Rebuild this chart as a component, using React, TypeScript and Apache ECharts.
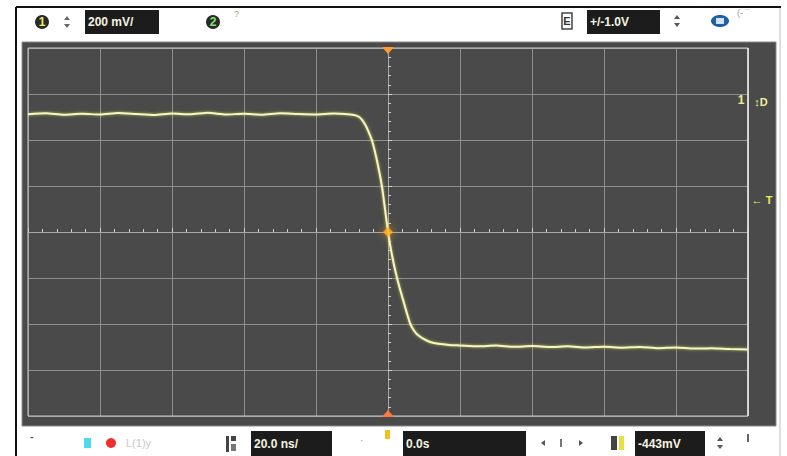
import React, { useEffect, useRef } from "react";
import * as echarts from "echarts";

// Time base: 20 ns/div, 10 divisions centred on the trigger (ns)
const timeTicks = [-100, -80, -60, -40, -20, 0, 20, 40, 60, 80, 100];
// Vertical: 200 mV/div, 8 divisions centred on the trigger level (mV)
const voltTicks = [-800, -600, -400, -200, 0, 200, 400, 600, 800];

// Channel 1 falling edge – sample times (ns)
const ch1Time = [
  -100, -95, -90, -85, -80, -75, -70, -65, -60, -55, -50, -45, -40, -35, -30, -25, -20, -15, -10,
  -9.2, -8, -7.2, -6.4, -5.6, -4.4, -3.1, -1.7, -0.8, 0, 1.1, 2.5, 4.2, 6.1, 7.2, 8.3, 10, 11.7, 14, 17,
  20, 25, 30, 35, 40, 45, 50, 55, 60, 65, 70, 75, 80, 85, 90, 95, 100,
];
// Channel 1 voltage relative to trigger level (mV)
const ch1Volt = [
  512, 516, 510, 514, 511, 517, 513, 509, 515, 512, 518, 511, 514, 510, 516, 513, 511, 515, 510,
  508, 500, 487, 468, 443, 396, 313, 200, 96, 0, -100, -200, -296, -396, -428, -448, -466, -478, -486, -491,
  -493, -497, -494, -499, -496, -500, -497, -502, -499, -503, -500, -505, -502, -507, -505, -509, -511,
];

const trigger = [[0, 0]];

const BOX = "#1c1c1c";
const FONT = "'Liberation Sans Narrow', 'Liberation Sans', Arial, sans-serif";

function boxText(x: number, y: number, w: number, h: number, label: string) {
  return {
    type: "group",
    children: [
      { type: "rect", shape: { x, y, width: w, height: h }, style: { fill: BOX } },
      {
        type: "text",
        x: x + 3,
        y: y + h / 2,
        style: {
          text: label,
          fill: "#f4f4e0",
          font: `bold 12px ${FONT}`,
          verticalAlign: "middle",
        },
      },
    ],
  };
}

function updown(x: number, y: number, color = "#555") {
  return {
    type: "group",
    children: [
      { type: "polygon", shape: { points: [[x - 3, y - 2], [x + 3, y - 2], [x, y - 6]] }, style: { fill: color } },
      { type: "polygon", shape: { points: [[x - 3, y + 2], [x + 3, y + 2], [x, y + 6]] }, style: { fill: color } },
    ],
  };
}

export default function App() {
  const ref = useRef<HTMLDivElement>(null);

  useEffect(() => {
    if (!ref.current) return;
    const chart = echarts.init(ref.current, undefined, { renderer: "svg" });

    const gridLine = { lineStyle: { color: "#8e8e8e", width: 1 } };

    chart.setOption({
      animation: false,
      backgroundColor: "#ffffff",
      grid: {
        left: 28,
        top: 48,
        width: 720,
        height: 368,
        show: true,
        borderColor: "#c8c8c8",
        borderWidth: 1,
        backgroundColor: "transparent",
        z: 2,
      },
      xAxis: {
        type: "value",
        min: timeTicks[0],
        max: timeTicks[timeTicks.length - 1],
        interval: 20,
        axisLabel: { show: false },
        axisLine: { show: true, onZero: true, lineStyle: { color: "#a8a8a8", width: 1 } },
        axisTick: { show: true, inside: true, length: 4, lineStyle: { color: "#d0d0d0" } },
        minorTick: { show: true, splitNumber: 5, length: 3, lineStyle: { color: "#d0d0d0" } },
        splitLine: gridLine,
      },
      yAxis: {
        type: "value",
        min: voltTicks[0],
        max: voltTicks[voltTicks.length - 1],
        interval: 200,
        axisLabel: { show: false },
        axisLine: { show: true, onZero: true, lineStyle: { color: "#a8a8a8", width: 1 } },
        axisTick: { show: true, inside: true, length: 4, lineStyle: { color: "#d0d0d0" } },
        minorTick: { show: true, splitNumber: 5, length: 3, lineStyle: { color: "#d0d0d0" } },
        splitLine: gridLine,
      },
      graphic: [
        // instrument frame
        { type: "rect", z: -10, shape: { x: 22, y: 42, width: 754, height: 384 }, style: { fill: "#4a4a4a", stroke: "#8a8a8a", lineWidth: 1 } },
        { type: "line", shape: { x1: 16, y1: 7, x2: 781, y2: 7 }, style: { stroke: "#111", lineWidth: 2 } },
        { type: "line", shape: { x1: 16, y1: 7, x2: 16, y2: 456 }, style: { stroke: "#111", lineWidth: 2 } },
        { type: "line", shape: { x1: 780, y1: 8, x2: 780, y2: 456 }, style: { stroke: "#bdbdbd", lineWidth: 1 } },
        { type: "line", z: 5, shape: { x1: 748, y1: 48, x2: 748, y2: 416 }, style: { stroke: "#e8e8e8", lineWidth: 1.5 } },

        // top bar
        { type: "circle", shape: { cx: 42, cy: 22, r: 7 }, style: { fill: "#2a2a2a" } },
        { type: "text", x: 42, y: 22, style: { text: "1", fill: "#e8f060", font: `bold 12px ${FONT}`, align: "center", verticalAlign: "middle" } },
        updown(67, 22, "#666"),
        boxText(85, 10, 74, 24, "200 mV/"),
        { type: "circle", shape: { cx: 213, cy: 22, r: 7 }, style: { fill: "#2a2a2a" } },
        { type: "text", x: 213, y: 22, style: { text: "2", fill: "#7ce86a", font: `bold 12px ${FONT}`, align: "center", verticalAlign: "middle" } },
        { type: "text", x: 234, y: 14, style: { text: "?", fill: "#b0a070", font: `9px ${FONT}`, verticalAlign: "middle" } },
        { type: "rect", shape: { x: 562, y: 13, width: 10, height: 16 }, style: { fill: "#fff", stroke: "#444", lineWidth: 1.5 } },
        { type: "text", x: 567, y: 21, style: { text: "E", fill: "#333", font: `bold 11px ${FONT}`, align: "center", verticalAlign: "middle" } },
        boxText(587, 10, 73, 24, "+/-1.0V"),
        updown(677, 21, "#555"),
        { type: "ellipse", shape: { cx: 720, cy: 21, rx: 9, ry: 6 }, style: { fill: "#1d5fa8" } },
        { type: "rect", shape: { x: 716, y: 18, width: 8, height: 6 }, style: { fill: "#cfe3ff" } },
        { type: "text", x: 737, y: 13, style: { text: "(-\u2009\u02D9\u02D9", fill: "#9a9a9a", font: `9px ${FONT}`, verticalAlign: "middle" } },

        // channel / trigger markers on the right of the graticule
        { type: "text", x: 741, y: 100, z: 6, style: { text: "1", fill: "#e8ee8a", font: `bold 12px ${FONT}`, align: "center", verticalAlign: "middle" } },
        { type: "text", x: 761, y: 102, z: 6, style: { text: "\u2195D", fill: "#eef0a0", font: `bold 11px ${FONT}`, align: "center", verticalAlign: "middle" } },
        { type: "text", x: 762, y: 200, z: 6, style: { text: "\u2190 T", fill: "#e8ee60", font: `bold 11px ${FONT}`, align: "center", verticalAlign: "middle" } },

        // trigger position markers
        { type: "polygon", z: 6, shape: { points: [[382, 47], [394, 47], [388, 54]] }, style: { fill: "#ff9a30" } },
        { type: "polygon", z: 6, shape: { points: [[382, 417], [394, 417], [388, 410]] }, style: { fill: "#ff7a40" } },

        // bottom bar
        { type: "text", x: 30, y: 436, style: { text: "-", fill: "#555", font: `bold 11px ${FONT}`, verticalAlign: "middle" } },
        { type: "rect", shape: { x: 84, y: 438, width: 7, height: 10 }, style: { fill: "#4fd8f0" } },
        { type: "circle", shape: { cx: 111, cy: 443, r: 5 }, style: { fill: "#ee3030" } },
        { type: "text", x: 126, y: 443, style: { text: "L(1)y", fill: "#c8c8c8", font: `11px ${FONT}`, verticalAlign: "middle" } },
        { type: "rect", shape: { x: 226, y: 436, width: 3, height: 16 }, style: { fill: "#444" } },
        { type: "rect", shape: { x: 231, y: 436, width: 5, height: 5 }, style: { fill: "#444" } },
        { type: "rect", shape: { x: 231, y: 444, width: 5, height: 7 }, style: { fill: "#777" } },
        boxText(251, 431, 81, 25, "20.0 ns/"),
        { type: "text", x: 360, y: 440, style: { text: "\u00B7", fill: "#c09060", font: `11px ${FONT}`, verticalAlign: "middle" } },
        { type: "rect", shape: { x: 385, y: 430, width: 5, height: 9 }, style: { fill: "#f0c020" } },
        boxText(403, 431, 123, 25, "0.0s"),
        { type: "polygon", shape: { points: [[541, 443], [545, 440], [545, 446]] }, style: { fill: "#555" } },
        { type: "rect", shape: { x: 560, y: 439, width: 2, height: 8 }, style: { fill: "#777" } },
        { type: "polygon", shape: { points: [[583, 443], [579, 440], [579, 446]] }, style: { fill: "#555" } },
        { type: "rect", shape: { x: 611, y: 436, width: 6, height: 14 }, style: { fill: "#444" } },
        { type: "rect", shape: { x: 619, y: 436, width: 5, height: 14 }, style: { fill: "#e8e040" } },
        boxText(635, 431, 70, 25, "-443mV"),
        updown(720, 443, "#555"),
        { type: "rect", shape: { x: 747, y: 434, width: 2, height: 8 }, style: { fill: "#666" } },
      ],
      series: [
        {
          type: "line",
          data: ch1Time.map((t, i) => [t, ch1Volt[i]]),
          showSymbol: false,
          smooth: 0.2,
          z: 4,
          lineStyle: { color: "#f6f6c4", width: 2, shadowColor: "rgba(230,230,60,0.7)", shadowBlur: 3 },
        },
        {
          type: "scatter",
          data: trigger,
          symbol: "diamond",
          symbolSize: 10,
          z: 5,
          itemStyle: { color: "#ffb020", shadowColor: "#ff9a20", shadowBlur: 8 },
        },
      ],
    });

    return () => chart.dispose();
  }, []);

  return (
    <div
      ref={ref}
      style={{ position: "fixed", left: 0, top: 0, width: 787, height: 456 }}
    />
  );
}
